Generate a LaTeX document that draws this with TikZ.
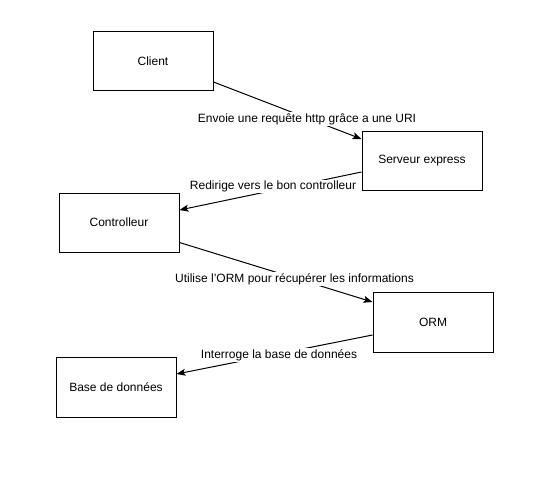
\documentclass[tikz,border=0pt]{standalone}
\usepackage{fontspec}
\setmainfont{Liberation Sans}
\usetikzlibrary{arrows.meta}
\begin{document}
\begin{tikzpicture}[x=1pt,y=-1pt,
  box/.style={draw=black,line width=1pt,fill=white,minimum width=120pt,minimum height=59pt,inner sep=0pt,font=\fontsize{12}{14}\selectfont},
  conn/.style={draw=black,line width=1pt,-{Stealth[length=9pt,width=7pt,inset=2pt]}},
  lbl/.style={fill=white,inner sep=1pt,font=\fontsize{12}{14}\selectfont}]
\useasboundingbox[fill=white] (0,0) rectangle (541,487);
\node[box] (client) at (153,61.5) {Client};
\node[box] (serveur) at (422,160.5) {Serveur express};
\node[box] (ctrl) at (119,222.5) {Controlleur};
\node[box,minimum height=60pt] (orm) at (433,322) {ORM};
\node[box,minimum height=60pt] (base) at (116,387) {Base de données};
\draw[conn] ([yshift=-20.5pt]client.east) -- ([yshift=21.5pt]serveur.west);
\draw[conn] ([yshift=-11.5pt]serveur.west) -- ([yshift=12.5pt]ctrl.east);
\draw[conn] ([yshift=-20pt]ctrl.east) -- ([yshift=20pt]orm.west);
\draw[conn] ([yshift=-13pt]orm.west) -- ([yshift=13pt]base.east);
\node[lbl] (l1) at (307,119) {Envoie une requête http grâce a une URI};
\node[lbl] (l2) at (273,186.5) {Redirige vers le bon controlleur};
\node[lbl] (l3) at (294.5,279) {Utilise l'ORM pour récupérer les informations};
\node[lbl] (l4) at (279,355) {Interroge la base de données};
\end{tikzpicture}
\end{document}
